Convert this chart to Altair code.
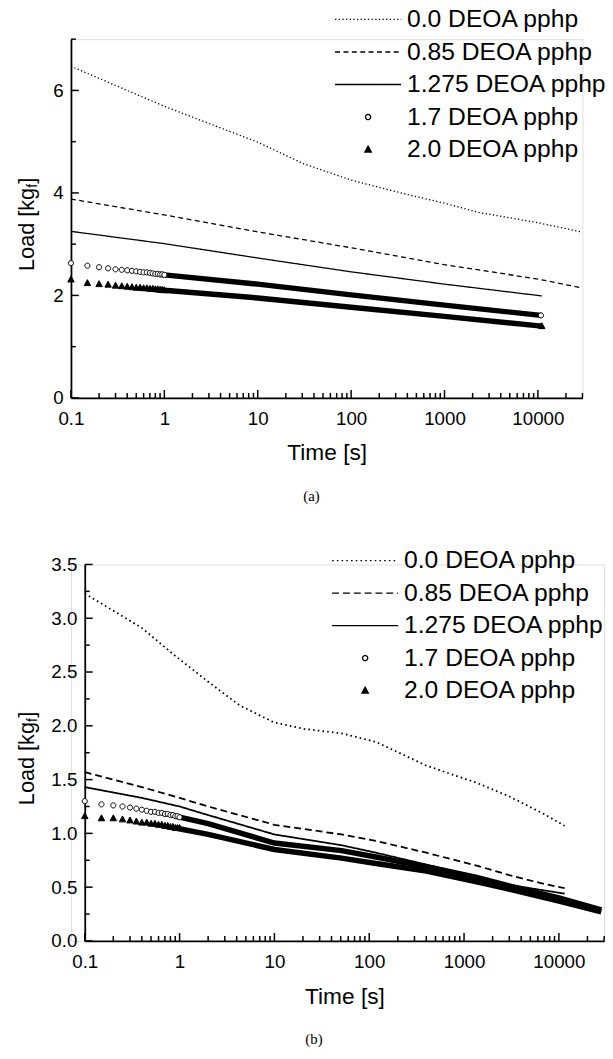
import altair as alt
import pandas as pd

FONT = "Liberation Sans"
SERIES = ["0.0 DEOA pphp", "0.85 DEOA pphp", "1.275 DEOA pphp", "1.7 DEOA pphp", "2.0 DEOA pphp"]
CIRCLE = "M-0.078,0A0.078,0.078,0,1,1,0.078,0A0.078,0.078,0,1,1,-0.078,0Z"
TRIANGLE = "M0,-0.105L0.097,0.075L-0.097,0.075Z"
SHAPES = ["stroke", "stroke", "stroke", CIRCLE, TRIANGLE]
FILLS = ["transparent", "transparent", "transparent", "white", "black"]
STROKES = ["black", "black", "black", "black", "black"]
DASHES_A = [[1.3, 2.4], [5, 3.5], [1, 0], [1, 0], [1, 0]]
DASHES_B = [[1.6, 3.2], [7, 4], [1, 0], [1, 0], [1, 0]]

X_MAJOR = [0.1, 1, 10, 100, 1000, 10000]
X_MINOR = [0.2, 0.3, 0.4, 0.5, 0.6, 0.7, 0.8, 0.9,
           2, 3, 4, 5, 6, 7, 8, 9,
           20, 30, 40, 50, 60, 70, 80, 90,
           200, 300, 400, 500, 600, 700, 800, 900,
           2000, 3000, 4000, 5000, 6000, 7000, 8000, 9000,
           20000, 30000]

# ---------------- panel (a) ----------------
A_Y_MAJOR = [0, 2, 4, 6]
A_Y_MINOR = [1, 3, 5, 7]

A_T_00 = [0.1, 1, 10, 31, 100, 417, 1000, 2300, 10000, 28800]
A_V_00 = [6.47, 5.69, 4.99, 4.57, 4.25, 3.96, 3.80, 3.62, 3.42, 3.24]
A_T_085 = [0.1, 1, 10, 100, 1000, 10000, 28800]
A_V_085 = [3.88, 3.57, 3.24, 2.93, 2.60, 2.32, 2.15]
A_T_1275 = [0.1, 1, 10, 100, 1000, 11000]
A_V_1275 = [3.25, 3.01, 2.73, 2.46, 2.22, 1.99]

A_MT = [0.1, 0.15, 0.2, 0.25, 0.3, 0.35, 0.4, 0.45, 0.5, 0.55, 0.6, 0.65, 0.7, 0.75, 0.8, 0.85, 0.9, 0.95, 1.0]
A_MV_17 = [2.63, 2.58, 2.55, 2.53, 2.51, 2.50, 2.49, 2.48, 2.47, 2.46, 2.45, 2.45, 2.44, 2.43, 2.42, 2.42, 2.41, 2.41, 2.40]
A_MV_20 = [2.31, 2.24, 2.22, 2.21, 2.19, 2.18, 2.17, 2.16, 2.15, 2.15, 2.14, 2.14, 2.13, 2.13, 2.12, 2.12, 2.11, 2.11, 2.10]
A_END_T = [10800, 11000]
A_END_V = [1.61, 1.40]
A_BT_17 = [0.9, 1, 10, 100, 1000, 10800]
A_BV_17 = [2.41, 2.40, 2.22, 2.01, 1.81, 1.61]
A_BT_20 = [0.9, 1, 10, 100, 1000, 11000]
A_BV_20 = [2.11, 2.10, 1.95, 1.77, 1.59, 1.40]

# ---------------- panel (b) ----------------
B_Y_MAJOR = [0, 0.5, 1.0, 1.5, 2.0, 2.5, 3.0, 3.5]
B_Y_MINOR = [0.25, 0.75, 1.25, 1.75, 2.25, 2.75, 3.25]

B_T_00 = [0.1, 0.4, 0.9, 2, 4.3, 10, 21, 51, 118, 400, 1360, 3060, 6950, 11500]
B_V_00 = [3.23, 2.91, 2.65, 2.41, 2.19, 2.03, 1.97, 1.93, 1.85, 1.63, 1.47, 1.34, 1.18, 1.07]
B_T_085 = [0.1, 0.4, 1, 2, 10, 51, 118, 400, 1360, 3060, 6950, 11500]
B_V_085 = [1.57, 1.43, 1.33, 1.25, 1.08, 0.99, 0.93, 0.82, 0.70, 0.61, 0.53, 0.49]
B_T_1275 = [0.1, 0.4, 1, 2, 10, 51, 118, 400, 1360, 3060, 6950, 11500]
B_V_1275 = [1.43, 1.33, 1.25, 1.17, 0.99, 0.89, 0.82, 0.71, 0.60, 0.52, 0.47, 0.44]

B_MT = [0.1, 0.15, 0.2, 0.25, 0.3, 0.35, 0.4, 0.45, 0.5, 0.55, 0.6, 0.65, 0.7, 0.75, 0.8, 0.85, 0.9, 0.95, 1.0]
B_MV_17 = [1.30, 1.27, 1.26, 1.25, 1.24, 1.23, 1.22, 1.21, 1.20, 1.20, 1.19, 1.19, 1.18, 1.18, 1.17, 1.17, 1.16, 1.16, 1.15]
B_MV_20 = [1.16, 1.14, 1.14, 1.13, 1.12, 1.11, 1.10, 1.10, 1.09, 1.09, 1.08, 1.08, 1.07, 1.07, 1.06, 1.06, 1.05, 1.05, 1.05]
B_BT = [0.9, 2, 10, 51, 118, 400, 1360, 3060, 10000, 28000]
B_BV_17 = [1.16, 1.09, 0.91, 0.84, 0.78, 0.69, 0.59, 0.51, 0.40, 0.29]
B_BV_20 = [1.05, 0.99, 0.85, 0.77, 0.72, 0.65, 0.55, 0.48, 0.37, 0.27]


def frame(pairs):
    rows = []
    for name, ts, vs in pairs:
        for t, v in zip(ts, vs):
            rows.append({"series": name, "t": t, "v": v})
    return pd.DataFrame(rows)


def panel(lines, bands, marks, ymax, ymaj, ymin, yfmt, W, H, shift, lx, ly, tx, lw, dashes, caption):
    # shift: horizontal inset of the plot frame inside the panel group
    xs = alt.Scale(type="log", domain=[0.1, 30000], nice=False, range=[shift, shift + W])
    ys = alt.Scale(domain=[0, ymax], nice=False, zero=True)
    xaxis = alt.Axis(values=X_MAJOR, format="~f", ticks=False, grid=False,
                     domainColor="black", domainWidth=1.8,
                     labelFont=FONT, labelFontSize=19, labelColor="black", labelPadding=12,
                     labelFlush=False, labelOverlap=False,
                     title="Time [s]", titleFont=FONT, titleFontSize=23,
                     titleFontWeight="normal", titleColor="black", titlePadding=14)
    yaxis = alt.Axis(values=ymaj, format=yfmt, ticks=False, grid=False, offset=-shift,
                     domainColor="black", domainWidth=1.8,
                     labelFont=FONT, labelFontSize=19, labelColor="black", labelPadding=8,
                     labelFlush=False, labelOverlap=False, title=None)
    X = alt.X("t:Q", scale=xs, axis=xaxis)
    Y = alt.Y("v:Q", scale=ys, axis=yaxis)
    leg = alt.Legend(orient="none", legendX=lx, legendY=ly, title=None,
                     labelFont=FONT, labelFontSize=25, labelColor="black", labelLimit=0,
                     symbolSize=4489, symbolStrokeWidth=1.3, symbolOpacity=1,
                     labelOffset=5, rowPadding=0, clipHeight=33, padding=0)
    stroke_enc = alt.Stroke("series:N", scale=alt.Scale(domain=SERIES, range=STROKES), legend=leg)

    line_layer = alt.Chart(lines).mark_line(strokeWidth=lw).encode(
        x=X, y=Y, stroke=stroke_enc,
        strokeDash=alt.StrokeDash("series:N", scale=alt.Scale(domain=SERIES, range=dashes), legend=leg),
    )
    band_layer = alt.Chart(bands).mark_line(color="black", strokeWidth=5.5).encode(
        x=X, y=Y, detail="series:N")
    point_layer = alt.Chart(marks).mark_point(size=4489, opacity=1, strokeWidth=1).encode(
        x=X, y=Y, stroke=stroke_enc,
        shape=alt.Shape("series:N", scale=alt.Scale(domain=SERIES, range=SHAPES), legend=leg),
        fill=alt.Fill("series:N", scale=alt.Scale(domain=SERIES, range=FILLS), legend=leg),
    )
    ymaj_df = pd.DataFrame({"v": ymaj})
    ymin_df = pd.DataFrame({"v": ymin})
    xmaj_df = pd.DataFrame({"t": X_MAJOR})
    xmin_df = pd.DataFrame({"t": X_MINOR})
    yt1 = alt.Chart(ymaj_df).mark_rule(color="black", strokeWidth=1.5).encode(
        y=Y, x=alt.value(shift), x2=alt.value(shift + 8))
    yt2 = alt.Chart(ymin_df).mark_rule(color="black", strokeWidth=1.5).encode(
        y=Y, x=alt.value(shift), x2=alt.value(shift + 5))
    xt1 = alt.Chart(xmaj_df).mark_rule(color="black", strokeWidth=1.5).encode(
        x=X, y=alt.value(H), y2=alt.value(H - 8))
    xt2 = alt.Chart(xmin_df).mark_rule(color="black", strokeWidth=1.5).encode(
        x=X, y=alt.value(H), y2=alt.value(H - 5))

    one = pd.DataFrame({"k": [0]})
    cy = H / 2 + 6
    ys0 = cy + 47.2
    t1 = alt.Chart(one).mark_text(text="Load [kg", angle=270, align="left", baseline="alphabetic",
                                  font=FONT, fontSize=22, color="black").encode(
        x=alt.value(tx), y=alt.value(ys0))
    t2 = alt.Chart(one).mark_text(text="f", angle=270, align="left", baseline="alphabetic",
                                  font=FONT, fontSize=14, color="black").encode(
        x=alt.value(tx + 4), y=alt.value(ys0 - 84.4))
    t3 = alt.Chart(one).mark_text(text="]", angle=270, align="left", baseline="alphabetic",
                                  font=FONT, fontSize=22, color="black").encode(
        x=alt.value(tx), y=alt.value(ys0 - 88.6))

    return alt.layer(line_layer, band_layer, point_layer, yt1, yt2, xt1, xt2, t1, t2, t3).properties(
        width=W + shift, height=H,
        title=alt.TitleParams(caption, orient="bottom", font="Liberation Serif", fontSize=15,
                              fontWeight="normal", color="black", offset=25, anchor="middle",
                              frame="bounds"),
    )


a_lines = frame([(SERIES[0], A_T_00, A_V_00), (SERIES[1], A_T_085, A_V_085), (SERIES[2], A_T_1275, A_V_1275)])
a_bands = frame([(SERIES[3], A_BT_17, A_BV_17), (SERIES[4], A_BT_20, A_BV_20)])
a_marks = frame([(SERIES[3], A_MT + A_END_T[:1], A_MV_17 + A_END_V[:1]),
                 (SERIES[4], A_MT + A_END_T[1:], A_MV_20 + A_END_V[1:])])

b_lines = frame([(SERIES[0], B_T_00, B_V_00), (SERIES[1], B_T_085, B_V_085), (SERIES[2], B_T_1275, B_V_1275)])
b_bands = frame([(SERIES[3], B_BT, B_BV_17), (SERIES[4], B_BT, B_BV_20)])
b_marks = frame([(SERIES[3], B_MT, B_MV_17), (SERIES[4], B_MT, B_MV_20)])

pa = panel(a_lines, a_bands, a_marks, 7, A_Y_MAJOR, A_Y_MINOR, "d", 519, 364, 0,
           267, -36.5, -38, 1.3, DASHES_A, "(a)")
pb = panel(b_lines, b_bands, b_marks, 3.5, B_Y_MAJOR, B_Y_MINOR, ".1f", 527, 382, 14,
           264, -20.5, -38, 1.8, DASHES_B, "(b)")

IND = dict(x="independent", y="independent", stroke="independent", strokeDash="independent",
           shape="independent", fill="independent")
LIND = dict(stroke="independent", strokeDash="independent", shape="independent", fill="independent")

chart = alt.vconcat(pa, pb, spacing=39).resolve_scale(**IND).resolve_legend(**LIND).properties(
    padding={"left": 15, "top": -5, "right": 0, "bottom": 0}
).configure_view(stroke=None).configure(background="white")

chart.save("out.html", embed_options={"renderer": "svg", "actions": False})
